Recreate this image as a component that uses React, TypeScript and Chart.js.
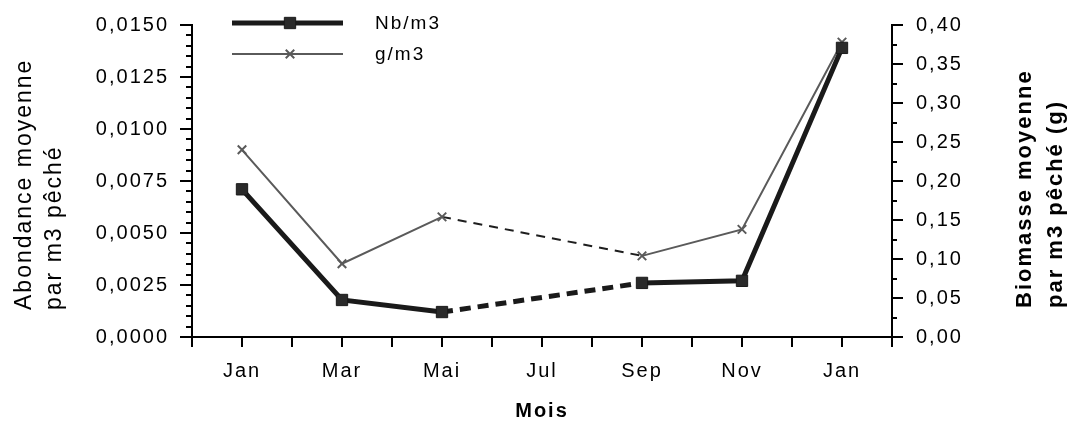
import React, { useEffect, useRef } from 'react';
import { Chart, registerables } from 'chart.js';
import { drawPoint } from 'chart.js/helpers';

Chart.register(...registerables);

// ---- data ----
const monthLabels = ['Jan', 'Mar', 'Mai', 'Jul', 'Sep', 'Nov', 'Jan'];
const monthIndex = [0, 1, 2, 3, 4, 5, 6];
const nbPerM3 = [0.0071, 0.00178, 0.0012, null, 0.0026, 0.0027, 0.0139];
const gPerM3 = [0.24, 0.094, 0.154, null, 0.104, 0.138, 0.378];
const seriesNames = ['Nb/m3', 'g/m3'];
const leftTitle = ['Abondance moyenne', 'par m3 pêché'];
const rightTitle = ['Biomasse moyenne', 'par m3 pêché (g)'];
const xTitle = 'Mois';

const FONT = "'Liberation Sans', Arial, sans-serif";

const skipped = (ctx: any, v: any) => (ctx.p0.skip || ctx.p1.skip ? v : undefined);

const spacingPlugin = {
  id: 'spacing',
  beforeUpdate(chart: any) { (chart.ctx as any).letterSpacing = '2px'; },
  beforeDraw(chart: any) { (chart.ctx as any).letterSpacing = '2px'; },
};

const extrasPlugin = {
  id: 'extras',
  afterDraw(chart: any) {
    const ctx = chart.ctx;
    const yl = chart.scales.yLeft;
    const yr = chart.scales.yRight;
    ctx.save();
    ctx.strokeStyle = '#000';
    ctx.lineWidth = 2;
    // minor ticks left
    for (let k = 0; k <= 30; k++) {
      if (k % 5 === 0) continue;
      const py = Math.round(yl.getPixelForValue(k * 0.0005));
      ctx.beginPath();
      ctx.moveTo(yl.right - 6, py);
      ctx.lineTo(yl.right, py);
      ctx.stroke();
    }
    // minor ticks right
    for (let k = 0; k <= 16; k++) {
      if (k % 2 === 0) continue;
      const py = Math.round(yr.getPixelForValue(k * 0.025));
      ctx.beginPath();
      ctx.moveTo(yr.left, py);
      ctx.lineTo(yr.left + 5, py);
      ctx.stroke();
    }
    // y titles
    ctx.fillStyle = '#000';
    const drawRot = (text: string, x: number, y: number, font: string, sp: string) => {
      ctx.save();
      (ctx as any).letterSpacing = sp;
      ctx.font = font;
      ctx.textAlign = 'left';
      ctx.textBaseline = 'middle';
      ctx.translate(x, y);
      ctx.rotate(-Math.PI / 2);
      ctx.fillText(text, 0, 0);
      ctx.restore();
    };
    drawRot(leftTitle[0], 25, 310, `23px ${FONT}`, '2px');
    drawRot(leftTitle[1], 55, 310, `23px ${FONT}`, '2px');
    drawRot(rightTitle[0], 1025, 308, `bold 22px ${FONT}`, '2px');
    drawRot(rightTitle[1], 1056, 308, `bold 22px ${FONT}`, '2px');
    // legend
    const legendY = [23, 54];
    chart.data.datasets.forEach((ds: any, i: number) => {
      const y = legendY[i];
      ctx.save();
      ctx.strokeStyle = ds.borderColor;
      ctx.lineWidth = ds.borderWidth;
      ctx.beginPath();
      ctx.moveTo(232, y);
      ctx.lineTo(343, y);
      ctx.stroke();
      ctx.fillStyle = ds.pointBackgroundColor;
      ctx.strokeStyle = ds.pointBorderColor;
      ctx.lineWidth = ds.pointBorderWidth;
      drawPoint(ctx, { pointStyle: ds.pointStyle, radius: ds.pointRadius, borderWidth: ds.pointBorderWidth, rotation: 0 } as any, 290, y);
      ctx.restore();
      ctx.save();
      (ctx as any).letterSpacing = '2px';
      ctx.fillStyle = '#000';
      ctx.font = `19px ${FONT}`;
      ctx.textAlign = 'left';
      ctx.textBaseline = 'middle';
      ctx.fillText(ds.label, 375, y + 1);
      ctx.restore();
    });
    ctx.restore();
  },
};

export default function App() {
  const ref = useRef<HTMLCanvasElement | null>(null);
  useEffect(() => {
    if (!ref.current) return;
    const chart = new Chart(ref.current, {
      type: 'line',
      data: {
        datasets: [
          {
            label: seriesNames[0],
            data: monthIndex.map((m, i) => ({ x: m, y: nbPerM3[i] })),
            yAxisID: 'yLeft',
            borderColor: '#1a1a1a',
            borderWidth: 5,
            pointStyle: 'rect',
            pointRadius: 8,
            pointBackgroundColor: '#2a2a2a',
            pointBorderColor: '#1a1a1a',
            pointBorderWidth: 1,
            spanGaps: true,
            tension: 0,
            segment: { borderDash: (c: any) => skipped(c, [11, 7]) },
          },
          {
            label: seriesNames[1],
            data: monthIndex.map((m, i) => ({ x: m, y: gPerM3[i] })),
            yAxisID: 'yRight',
            borderColor: '#5a5a5a',
            borderWidth: 2,
            pointStyle: 'crossRot',
            pointRadius: 6,
            pointBackgroundColor: '#ffffff',
            pointBorderColor: '#5a5a5a',
            pointBorderWidth: 2,
            spanGaps: true,
            tension: 0,
            segment: {
              borderDash: (c: any) => skipped(c, [9, 7]),
              borderColor: (c: any) => skipped(c, '#1e1e1e'),
            },
          },
        ],
      },
      options: {
        animation: false,
        responsive: true,
        maintainAspectRatio: false,
        layout: { padding: { top: 16, left: 0, right: 0, bottom: 0 } },
        plugins: { legend: { display: false }, tooltip: { enabled: false } },
        scales: {
          x: {
            type: 'linear',
            position: 'bottom',
            min: -0.5,
            max: 6.5,
            afterFit: (s: any) => { s.height = 90; },
            ticks: {
              stepSize: 0.5,
              autoSkip: false,
              maxRotation: 0,
              padding: 12,
              color: '#000',
              font: { family: FONT, size: 20 },
              callback: (v: any) => (Number.isInteger(v) ? monthLabels[v] : ''),
            },
            grid: { drawOnChartArea: false, color: '#000', tickLength: 10, tickWidth: 2, lineWidth: 2 },
            border: { display: true, color: '#000', width: 2 },
            title: { display: true, text: xTitle, color: '#000', font: { family: FONT, size: 20, weight: 'bold' }, padding: { top: 0, bottom: 4 } },
          },
          yLeft: {
            type: 'linear',
            position: 'left',
            min: 0,
            max: 0.015,
            afterFit: (s: any) => { s.width = 192; },
            ticks: {
              stepSize: 0.0025,
              padding: 11,
              color: '#000',
              font: { family: FONT, size: 20 },
              callback: (v: any) => Number(v).toFixed(4).replace('.', ','),
            },
            grid: { drawOnChartArea: false, color: '#000', tickLength: 12, tickWidth: 2, lineWidth: 2 },
            border: { display: true, color: '#000', width: 2 },
          },
          yRight: {
            type: 'linear',
            position: 'right',
            min: 0,
            max: 0.4,
            afterFit: (s: any) => { s.width = 186; },
            ticks: {
              stepSize: 0.05,
              padding: 13,
              color: '#000',
              font: { family: FONT, size: 20 },
              callback: (v: any) => Number(v).toFixed(2).replace('.', ','),
            },
            grid: { drawOnChartArea: false, color: '#000', tickLength: 11, tickWidth: 2, lineWidth: 2 },
            border: { display: true, color: '#000', width: 2 },
          },
        },
      } as any,
      plugins: [spacingPlugin, extrasPlugin],
    });
    return () => chart.destroy();
  }, []);
  return (
    <div style={{ position: 'fixed', left: 0, top: 0, width: 1078, height: 427, background: '#fff' }}>
      <canvas ref={ref} />
    </div>
  );
}
